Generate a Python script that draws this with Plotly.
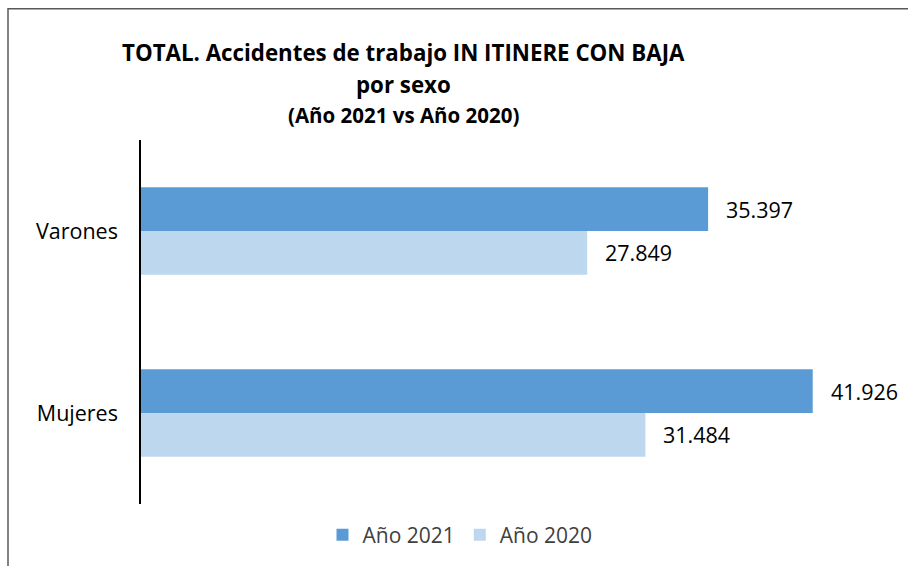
import plotly.graph_objects as go

# Accidentes in itinere con baja, por sexo
categorias = ["Mujeres", "Varones"]
valores_2021 = [41926, 35397]
valores_2020 = [31484, 27849]
series = ["Año 2021", "Año 2020"]

COLOR_2021 = "#5B9BD5"
COLOR_2020 = "#BDD7EE"
FONT = "'Open Sans', Calibri, sans-serif"

# plot area geometry (px)
W_FIG, H_FIG = 908, 566
M_L, M_R, M_T, M_B = 141, 30, 140, 61
X_MAX = 46000
PW = W_FIG - M_L - M_R
PH = H_FIG - M_T - M_B


def fmt(v):
    return f"{v:,}".replace(",", ".")


fig = go.Figure()
# 2020 first so that it sits below 2021 inside each group
fig.add_trace(go.Bar(
    y=categorias, x=valores_2020, orientation="h", name=series[1],
    marker=dict(color=COLOR_2020, line=dict(width=0)), legendrank=2,
    hoverinfo="skip",
))
fig.add_trace(go.Bar(
    y=categorias, x=valores_2021, orientation="h", name=series[0],
    marker=dict(color=COLOR_2021, line=dict(width=0)), legendrank=1,
    hoverinfo="skip",
))

annotations = []
# value labels just to the right of each bar
for i, cat in enumerate(categorias):
    for vals, dy in ((valores_2021, 0.12), (valores_2020, -0.12)):
        annotations.append(dict(
            x=vals[i], y=i + dy, xref="x", yref="y", text=fmt(vals[i]),
            showarrow=False, xanchor="left", yanchor="middle", xshift=16,
            font=dict(family=FONT, size=21.5, color="#000000"),
        ))

# title, three lines
title_cx = (403 - M_L) / PW
for txt, ypx, size in (
    ("TOTAL. Accidentes de trabajo IN ITINERE CON BAJA", 52, 22.3),
    ("por sexo", 84, 22.3),
    ("(Año 2021 vs Año 2020)", 115, 20.5),
):
    annotations.append(dict(
        x=title_cx, y=1 + (M_T - ypx) / PH, xref="paper", yref="paper",
        text=f"<b>{txt}</b>", showarrow=False, xanchor="center", yanchor="middle",
        font=dict(family=FONT, size=size, color="#000000"),
    ))

# outer chart frame (left and top edges visible, continues past the page)
frame = dict(
    type="rect", xref="paper", yref="paper",
    x0=(8 - M_L) / PW, x1=(W_FIG + 40 - M_L) / PW,
    y0=-(M_B + 40) / PH, y1=1 + (M_T - 8.5) / PH,
    line=dict(color="#595959", width=1.5), fillcolor="rgba(0,0,0,0)", layer="below",
)

fig.update_layout(
    width=W_FIG, height=H_FIG,
    margin=dict(l=M_L, r=M_R, t=M_T, b=M_B),
    paper_bgcolor="white", plot_bgcolor="white",
    barmode="group", bargap=0.52, bargroupgap=0,
    font=dict(family=FONT, size=21.5, color="#000000"),
    showlegend=True,
    legend=dict(
        orientation="h", x=(460 - M_L) / PW, xanchor="center",
        y=-(535 - (M_T + PH)) / PH, yanchor="middle",
        font=dict(family=FONT, size=21, color="#404040"),
        itemwidth=30, traceorder="normal", bgcolor="rgba(0,0,0,0)",
    ),
    xaxis=dict(range=[0, X_MAX], visible=False, showgrid=False, zeroline=False),
    yaxis=dict(
        range=[-0.5, 1.5], showline=True, linecolor="#000000", linewidth=1.5,
        showgrid=False, zeroline=False, ticks="", ticklabelstandoff=17,
        tickfont=dict(family=FONT, size=21.5, color="#000000"),
    ),
    annotations=annotations,
    shapes=[frame],
)

fig.write_html("out.html")
